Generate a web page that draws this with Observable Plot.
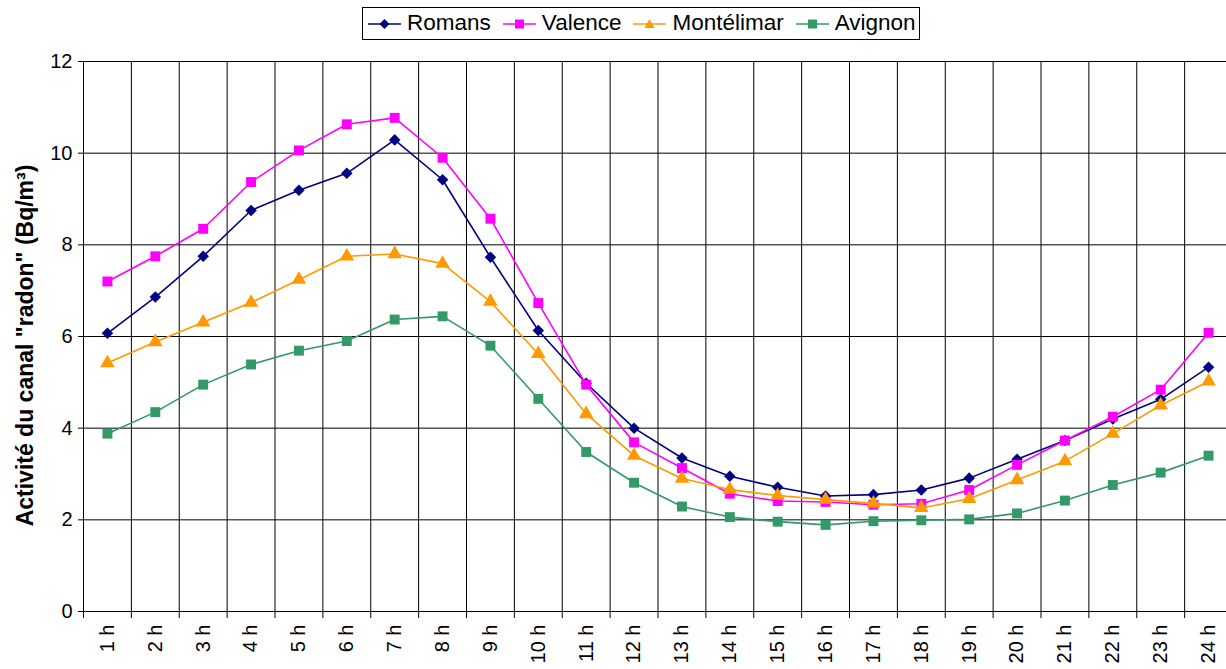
<!DOCTYPE html>
<html><head><meta charset="utf-8">
<script src="https://cdn.jsdelivr.net/npm/d3@7"></script>
<script src="https://cdn.jsdelivr.net/npm/@observablehq/plot@0.6"></script>
<style>
body{margin:0;background:#fff;font-family:"Liberation Sans",Arial,sans-serif;overflow:hidden}
#legend{position:relative;width:1226px;height:45px}
#legend .box{position:absolute;left:362px;top:7px;height:31px;border:1px solid #000;display:flex;align-items:center;padding:0 3px 0 5px;box-sizing:content-box}
.item{display:flex;align-items:center;margin-right:12px}
.item:last-child{margin-right:0}
.item svg{display:block;margin-right:6px}
.item span{font-size:22.5px;line-height:1;color:#000}
</style></head><body>
<div id="legend"><div class="box"></div></div>
<div id="chart"></div>
<script>
const hours = [1,2,3,4,5,6,7,8,9,10,11,12,13,14,15,16,17,18,19,20,21,22,23,24];
const hourLabels = ["1 h","2 h","3 h","4 h","5 h","6 h","7 h","8 h","9 h","10 h","11 h","12 h","13 h","14 h","15 h","16 h","17 h","18 h","19 h","20 h","21 h","22 h","23 h","24 h"];
const series = ["Romans","Valence","Montélimar","Avignon"];
const colors = ["#000080","#FF00FF","#FF9900","#339966"];
const symbols = ["diamond2","square","triangle","square"];
const yTicks = [0,2,4,6,8,10,12];
const yLabel = 'Activité du canal "radon" (Bq/m³)';

const romans     = [6.07,6.86,7.75,8.75,9.19,9.56,10.29,9.42,7.73,6.13,4.98,4.00,3.35,2.95,2.71,2.52,2.55,2.65,2.91,3.32,3.73,4.20,4.63,5.33];
const valence    = [7.20,7.75,8.35,9.37,10.06,10.63,10.77,9.90,8.57,6.73,4.95,3.69,3.13,2.57,2.41,2.39,2.33,2.35,2.65,3.20,3.73,4.25,4.84,6.08];
const montelimar = [5.42,5.88,6.31,6.74,7.24,7.75,7.80,7.59,6.76,5.62,4.31,3.40,2.90,2.66,2.53,2.44,2.36,2.26,2.46,2.87,3.28,3.88,4.50,5.02];
const avignon    = [3.88,4.35,4.95,5.39,5.69,5.90,6.37,6.44,5.80,4.64,3.48,2.81,2.29,2.06,1.96,1.89,1.97,1.99,2.01,2.14,2.42,2.76,3.03,3.40];
const values = [romans, valence, montelimar, avignon];

const rows = [];
series.forEach((s, i) => values[i].forEach((v, j) => rows.push({series: s, hour: hours[j], value: v})));
const boundaries = hours.map(h => h - 0.5).concat([hours[hours.length - 1] + 0.5]);

const font = '"Liberation Sans", Arial, sans-serif';
const dotSizes = {diamond2: 5.2, square: 5.6, triangle: 5.4};

const marks = [
  Plot.ruleY(yTicks, {stroke: "#000", strokeWidth: 1}),
  Plot.ruleX(boundaries, {y1: yTicks[0], y2: yTicks[yTicks.length - 1], stroke: "#000", strokeWidth: 1}),
  Plot.axisY({ticks: yTicks, tickSize: 5, tickPadding: 6, fontSize: 20, label: null, stroke: "#000"}),
  Plot.axisX({ticks: boundaries, tickSize: 7, tickFormat: () => "", label: null, stroke: "#000"}),
  Plot.text(hours, {x: d => d, text: d => hourLabels[d - 1], frameAnchor: "bottom", rotate: -90, textAnchor: "end", lineAnchor: "middle", dy: 13, fontSize: 20, fill: "#000"}),
  Plot.text([yLabel], {frameAnchor: "left", text: d => d, rotate: -90, dx: -58, dy: 9, fontSize: 23, fontWeight: "bold", textAnchor: "middle", lineAnchor: "middle", fill: "#000"})
];
series.forEach((s, i) => {
  const data = rows.filter(r => r.series === s);
  marks.push(Plot.line(data, {x: "hour", y: "value", stroke: colors[i], strokeWidth: 1.6}));
  marks.push(Plot.dot(data, {x: "hour", y: "value", symbol: () => symbols[i], fill: colors[i], stroke: "none", r: dotSizes[symbols[i]]}));
});

const chart = Plot.plot({
  width: 1226, height: 624,
  marginLeft: 83, marginRight: -6, marginTop: 16, marginBottom: 58,
  style: {fontFamily: font, color: "#000", background: "#fff", overflow: "hidden"},
  x: {domain: [boundaries[0], boundaries[boundaries.length - 1]], axis: null},
  y: {domain: [yTicks[0], yTicks[yTicks.length - 1]], axis: null},
  symbol: {type: "identity"},
  marks
});
document.getElementById("chart").appendChild(chart);

// legend
const box = document.querySelector("#legend .box");
series.forEach((s, i) => {
  const item = document.createElement("div");
  item.className = "item";
  let shape;
  const c = colors[i];
  if (symbols[i] === "diamond2") shape = `<polygon points="16.5,2 21.5,7 16.5,12 11.5,7" fill="${c}"/>`;
  else if (symbols[i] === "square") shape = `<rect x="12" y="2.5" width="9" height="9" fill="${c}"/>`;
  else shape = `<polygon points="16.5,2 21.5,11 11.5,11" fill="${c}"/>`;
  item.innerHTML = `<svg width="33" height="14"><line x1="0" y1="7" x2="33" y2="7" stroke="${c}" stroke-width="1.6"/>${shape}</svg><span>${s}</span>`;
  box.appendChild(item);
});
</script>
</body></html>
